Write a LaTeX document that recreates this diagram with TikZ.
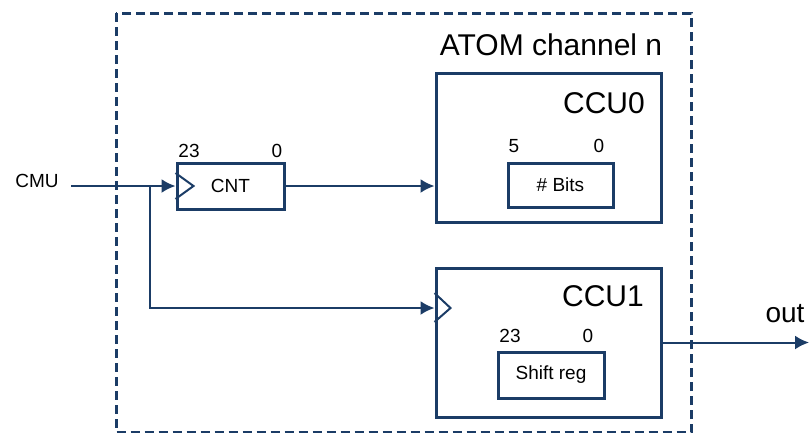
\documentclass[tikz,border=0pt]{standalone}
\usepackage{fontspec}
\setmainfont{Liberation Sans}
\usetikzlibrary{arrows.meta}
\definecolor{navy}{RGB}{27,60,102}
\tikzset{
  blk/.style={draw=navy,line width=3pt,rectangle,inner sep=0pt},
  lbl/.style={font=\fontsize{19}{22}\selectfont,inner sep=0pt,anchor=base},
  big/.style={font=\fontsize{30}{36}\selectfont,inner sep=0pt,anchor=base},
  wire/.style={navy,line width=2pt}
}
\begin{document}
\begin{tikzpicture}[x=1pt,y=-1pt,>={Latex[length=14pt,width=14pt]}]
\useasboundingbox (0,0) rectangle (810,432);
\draw[navy,line width=3pt,dash pattern=on 9pt off 5pt] (116,13) rectangle (691,432.5);
\node[big] (title) at (551,55) {ATOM channel n};

% blocks
\node[blk,minimum width=107pt,minimum height=46pt,font=\fontsize{19}{22}\selectfont] (cnt) at (230.5,186) {CNT};
\node[blk,minimum width=225pt,minimum height=149pt] (ccu0) at (548.5,147.5) {};
\node[blk,minimum width=225pt,minimum height=149pt] (ccu1) at (548.5,342.5) {};
\node[blk,minimum width=105pt,minimum height=44pt,font=\fontsize{19}{22}\selectfont] (bits) at (560.5,185) {\# Bits};
\node[blk,minimum width=106pt,minimum height=46pt,font=\fontsize{19}{22}\selectfont] (shift) at (551,375) {Shift reg};
\node[big] (ccu0name) at (604,113) {CCU0};
\node[big] (ccu1name) at (603,306) {CCU1};

% bit numbers
\node[lbl] (cnthi) at (189,157) {23};
\node[lbl] (cntlo) at (277,157) {0};
\node[lbl] (bitshi) at (514,152) {5};
\node[lbl] (bitslo) at (599,152) {0};
\node[lbl] (shifthi) at (510,342) {23};
\node[lbl] (shiftlo) at (588,342) {0};

% clock inputs
\draw[navy,line width=2pt] (cnt.west) ++(0,-13) -- ++(18,13) -- ++(-18,13);
\coordinate (clk1) at ([yshift=34.5pt]ccu1.west);
\draw[navy,line width=2pt] (clk1) ++(0,-15) -- ++(16,15) -- ++(-16,14);

% wires
\node[lbl] (cmu) at (37,187) {CMU};
\coordinate (cmuin) at (71,186);
\coordinate (split) at (150,186);
\draw[wire,->] (cmuin) -- (cnt.west);
\draw[wire,->] (split) |- (clk1);
\draw[wire,->] (cnt.east) -- (cnt.east -| ccu0.west);
\coordinate (out) at (809,342.5);
\draw[wire,->] (ccu1.east) -- (out);
\node[big,font=\fontsize{28}{34}\selectfont] (outname) at (785,322) {out};

\end{tikzpicture}
\end{document}
